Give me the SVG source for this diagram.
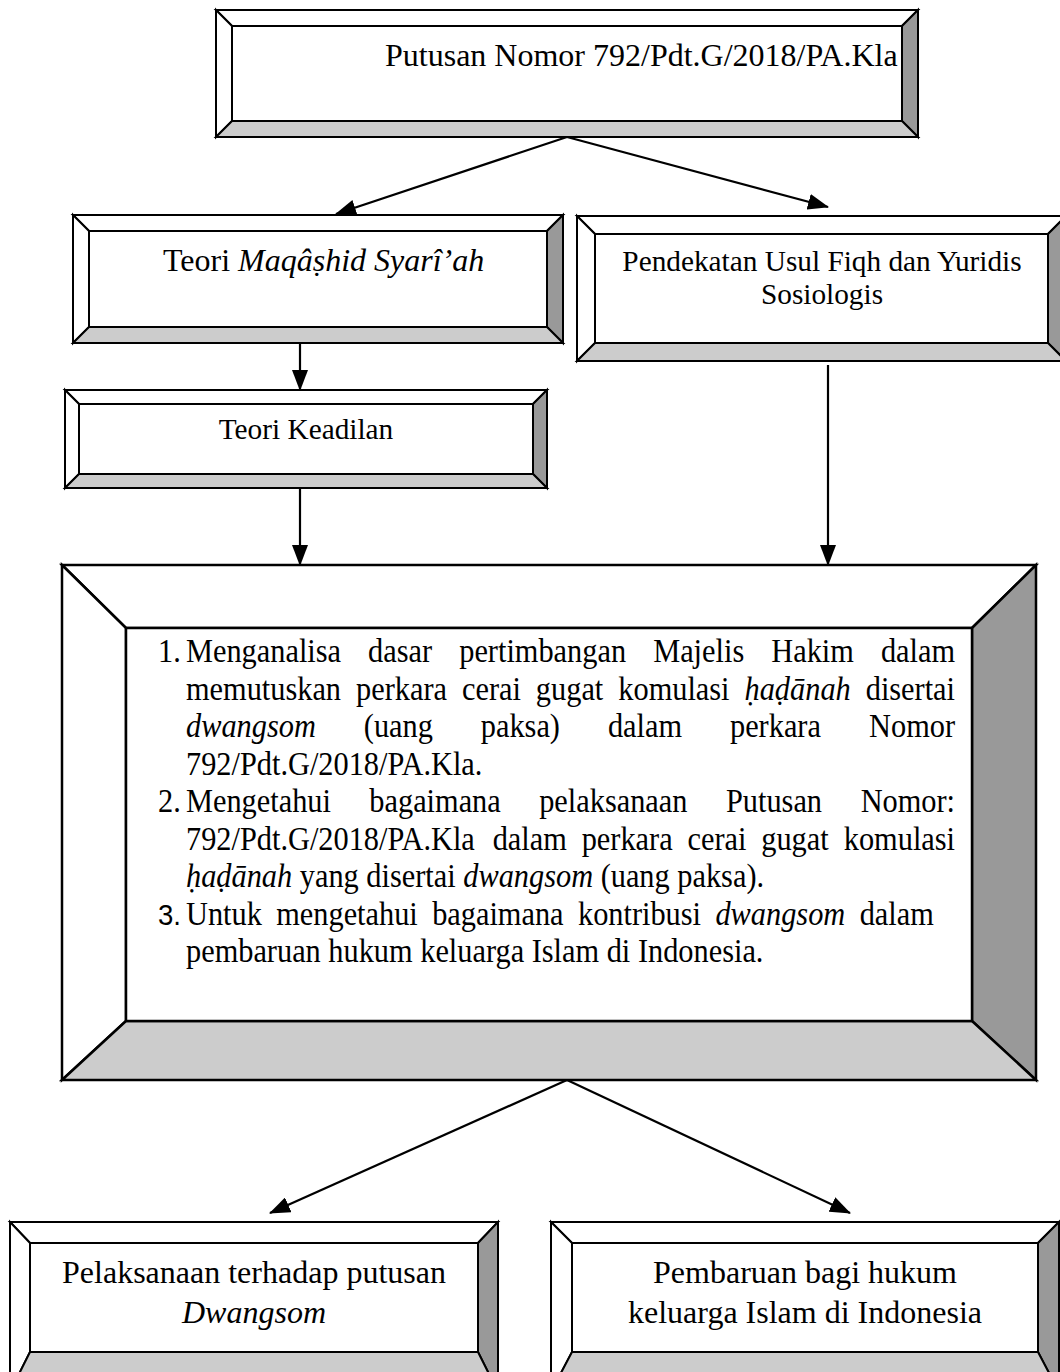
<svg xmlns="http://www.w3.org/2000/svg" width="1060" height="1372" viewBox="0 0 1060 1372">
<defs>
<style>
.f{stroke:#000;stroke-width:2;stroke-linejoin:miter}
.m{stroke-width:2.5}
.w{fill:#fff}
.r{fill:#999}
.b{fill:#ccc}
.t{font-family:"Liberation Serif","Times New Roman",serif;fill:#000}
.i{font-style:italic}
.c{stroke:#000;stroke-width:2.2;fill:none}
</style>
<marker id="ah" markerUnits="userSpaceOnUse" markerWidth="21" markerHeight="16" refX="20" refY="8" orient="auto">
<path d="M0,0 L21,8 L0,16 z" fill="#000"/>
</marker>
</defs>
<rect width="1060" height="1372" fill="#fff"/>

<g id="n1">
<polygon class="f w" points="216,10 918,10 902,26 232,26"/>
<polygon class="f w" points="216,10 232,26 232,121 216,137"/>
<polygon class="f r" points="918,10 918,137 902,121 902,26"/>
<polygon class="f b" points="216,137 232,121 902,121 918,137"/>
<rect class="f w" x="232" y="26" width="670" height="95"/>
<text class="t" x="385" y="66" font-size="32">Putusan Nomor 792/Pdt.G/2018/PA.Kla</text>
</g>

<g id="n2">
<polygon class="f w" points="73,215 563,215 547,231 89,231"/>
<polygon class="f w" points="73,215 89,231 89,327 73,343"/>
<polygon class="f r" points="563,215 563,343 547,327 547,231"/>
<polygon class="f b" points="73,343 89,327 547,327 563,343"/>
<rect class="f w" x="89" y="231" width="458" height="96"/>
<text class="t" x="163" y="271" font-size="32">Teori <tspan class="i">Maqâṣhid Syarî’ah</tspan></text>
</g>

<g id="n3">
<polygon class="f w" points="577,216 1066,216 1048,234 595,234"/>
<polygon class="f w" points="577,216 595,234 595,343 577,361"/>
<polygon class="f r" points="1066,216 1066,361 1048,343 1048,234"/>
<polygon class="f b" points="577,361 595,343 1048,343 1066,361"/>
<rect class="f w" x="595" y="234" width="453" height="109"/>
<text class="t" x="822" y="271" font-size="29.3" text-anchor="middle">Pendekatan Usul Fiqh dan Yuridis</text>
<text class="t" x="822" y="304" font-size="29.3" text-anchor="middle">Sosiologis</text>
</g>

<g id="n4">
<polygon class="f w" points="65,390 547,390 533,404 79,404"/>
<polygon class="f w" points="65,390 79,404 79,474 65,488"/>
<polygon class="f r" points="547,390 547,488 533,474 533,404"/>
<polygon class="f b" points="65,488 79,474 533,474 547,488"/>
<rect class="f w" x="79" y="404" width="454" height="70"/>
<text class="t" x="306" y="439" font-size="29.3" text-anchor="middle">Teori Keadilan</text>
</g>

<g id="n5">
<polygon class="f m w" points="62,565 1036,565 972,628 126,628"/>
<polygon class="f m w" points="62,565 126,628 126,1021 62,1080"/>
<polygon class="f m r" points="1036,565 1036,1080 972,1021 972,628"/>
<polygon class="f m b" points="62,1080 126,1021 972,1021 1036,1080"/>
<rect class="f m w" x="126" y="628" width="846" height="393"/>
<g class="t" font-size="33" transform="translate(186,0) scale(0.92,1) translate(-186,0)">
<text x="155.6" y="662">1.</text>
<text y="662"><tspan x="186">Menganalisa</tspan><tspan x="383.9">dasar</tspan><tspan x="483">pertimbangan</tspan><tspan x="693.8">Majelis</tspan><tspan x="822.2">Hakim</tspan></text>
<text x="1021.9" y="662" text-anchor="end">dalam</text>
<text y="700"><tspan x="186">memutuskan</tspan><tspan x="370.9">perkara</tspan><tspan x="486">cerai</tspan><tspan x="566.3">gugat</tspan><tspan x="655.9">komulasi</tspan><tspan x="793.1" class="i">ḥaḍānah</tspan></text>
<text x="1021.9" y="700" text-anchor="end">disertai</text>
<text y="737"><tspan x="186" class="i">dwangsom</tspan><tspan x="379.3">(uang</tspan><tspan x="506.4">paksa)</tspan><tspan x="644.6">dalam</tspan><tspan x="777.3">perkara</tspan></text>
<text x="1021.9" y="737" text-anchor="end">Nomor</text>
<text x="186" y="775">792/Pdt.G/2018/PA.Kla.</text>
<text x="155.6" y="812">2.</text>
<text y="812"><tspan x="186">Mengetahui</tspan><tspan x="385.3">bagaimana</tspan><tspan x="569.9">pelaksanaan</tspan><tspan x="772.9">Putusan</tspan></text>
<text x="1021.9" y="812" text-anchor="end">Nomor:</text>
<text y="850"><tspan x="186">792/Pdt.G/2018/PA.Kla</tspan><tspan x="519.3">dalam</tspan><tspan x="616.1">perkara</tspan><tspan x="731.1">cerai</tspan><tspan x="811.3">gugat</tspan></text>
<text x="1021.9" y="850" text-anchor="end">komulasi</text>
<text x="186" y="887"><tspan class="i">ḥaḍānah</tspan> yang disertai <tspan class="i">dwangsom</tspan> (uang paksa).</text>
<text x="155.6" y="925" font-family="Liberation Sans, Arial, sans-serif" font-size="30">3.</text>
<text x="186" y="925" word-spacing="7.4">Untuk mengetahui bagaimana kontribusi <tspan class="i">dwangsom</tspan> dalam</text>
<text x="186" y="962">pembaruan hukum keluarga Islam di Indonesia.</text>
</g>
</g>

<g id="n6">
<polygon class="f w" points="10,1222 498,1222 478,1243 30,1243"/>
<polygon class="f w" points="10,1222 30,1243 30,1352 10,1392"/>
<polygon class="f r" points="498,1222 498,1392 478,1352 478,1243"/>
<polygon class="f b" points="10,1392 30,1352 478,1352 498,1392"/>
<rect class="f w" x="30" y="1243" width="448" height="109"/>
<text class="t" x="254" y="1283" font-size="32" text-anchor="middle">Pelaksanaan terhadap putusan</text>
<text class="t i" x="254" y="1323" font-size="32" text-anchor="middle">Dwangsom</text>
</g>

<g id="n7">
<polygon class="f w" points="551,1222 1059,1222 1038,1243 572,1243"/>
<polygon class="f w" points="551,1222 572,1243 572,1352 551,1392"/>
<polygon class="f r" points="1059,1222 1059,1392 1038,1352 1038,1243"/>
<polygon class="f b" points="551,1392 572,1352 1038,1352 1059,1392"/>
<rect class="f w" x="572" y="1243" width="466" height="109"/>
<text class="t" x="805" y="1283" font-size="32" text-anchor="middle">Pembaruan bagi hukum</text>
<text class="t" x="805" y="1323" font-size="32" text-anchor="middle">keluarga Islam di Indonesia</text>
</g>

<g id="connectors">
<line class="c" x1="567" y1="137" x2="336" y2="214" marker-end="url(#ah)"/>
<line class="c" x1="567" y1="137" x2="828" y2="207" marker-end="url(#ah)"/>
<line class="c" x1="300" y1="343" x2="300" y2="390" marker-end="url(#ah)"/>
<line class="c" x1="300" y1="488" x2="300" y2="565" marker-end="url(#ah)"/>
<line class="c" x1="828" y1="365" x2="828" y2="565" marker-end="url(#ah)"/>
<line class="c" x1="567" y1="1080" x2="270" y2="1213" marker-end="url(#ah)"/>
<line class="c" x1="567" y1="1080" x2="850" y2="1213" marker-end="url(#ah)"/>
</g>
</svg>
